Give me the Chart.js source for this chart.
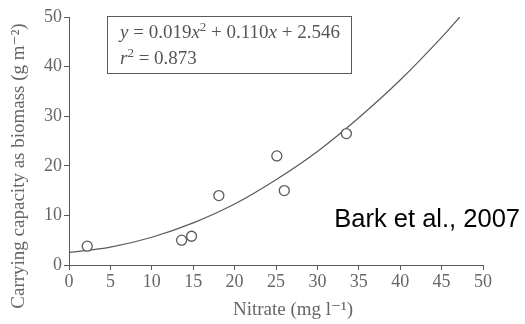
<!DOCTYPE html>
<html><head><meta charset="utf-8">
<script src="https://cdn.jsdelivr.net/npm/chart.js@4/dist/chart.umd.min.js"></script>
<style>html,body{margin:0;padding:0;background:#fff;}#w{width:525px;height:324px;position:relative;}</style>
</head><body><div id="w"><canvas id="c"></canvas></div>
<script>
const nitrate = [2.2, 13.6, 14.8, 18.1, 25.1, 26.0, 33.5];
const biomass = [3.8, 5.0, 5.8, 14.0, 22.0, 15.0, 26.5];
const fitX = [0, 5, 10, 15, 20, 25, 30, 35, 40, 45, 47.2];
const fitY = [2.5, 3.6, 5.6, 8.5, 12.3, 17.2, 22.9, 29.7, 37.3, 45.9, 50];
const xTicks = [0, 5, 10, 15, 20, 25, 30, 35, 40, 45, 50];
const yTicks = [0, 10, 20, 30, 40, 50];
const xTitle = 'Nitrate (mg l\u207B\u00B9)';
const yTitle = 'Carrying capacity as biomass (g m\u207B\u00B2)';
const grey = '#5a5a5a';
const serif = "'Liberation Serif','DejaVu Serif',serif";

const overlay = {
  id: 'overlay',
  afterDraw(chart) {
    const ctx = chart.ctx;
    ctx.save();
    // axis titles
    ctx.fillStyle = '#666';
    ctx.font = '19px ' + serif;
    ctx.textAlign = 'center';
    ctx.textBaseline = 'alphabetic';
    ctx.fillText(xTitle, 293, 315);
    ctx.save();
    ctx.translate(24, 166);
    ctx.rotate(-Math.PI / 2);
    ctx.fillText(yTitle, 0, 0);
    ctx.restore();
    // equation box
    ctx.textAlign = 'left';
    ctx.strokeStyle = grey; ctx.lineWidth = 1;
    ctx.strokeRect(107.5, 16.5, 244, 57);
    ctx.fillStyle = '#555';
    const seg = (parts, x, y) => {
      for (const p of parts) {
        ctx.font = (p.it ? 'italic ' : '') + (p.s || 19) + 'px ' + serif;
        ctx.fillText(p.t, x, y + (p.dy || 0));
        x += ctx.measureText(p.t).width;
      }
    };
    seg([{t:'y',it:1},{t:' = 0.019'},{t:'x',it:1},{t:'2',s:13,dy:-7},{t:' + 0.110'},{t:'x',it:1},{t:' + 2.546'}], 120, 38);
    seg([{t:'r',it:1},{t:'2',s:13,dy:-7},{t:' = 0.873'}], 120, 64);
    // attribution
    ctx.fillStyle = '#000';
    ctx.font = "25.5px 'Liberation Sans', Arial, sans-serif";
    ctx.textAlign = 'right';
    ctx.fillText('Bark et al., 2007', 520, 227);
    ctx.restore();
  }
};

new Chart(document.getElementById('c'), {
  data: {
    datasets: [
      { type: 'line', data: fitX.map((x, i) => ({x, y: fitY[i]})), borderColor: grey, borderWidth: 1.2,
        pointRadius: 0, cubicInterpolationMode: 'monotone', fill: false, order: 2 },
      { type: 'scatter', data: nitrate.map((x, i) => ({x, y: biomass[i]})), borderColor: grey,
        backgroundColor: '#fff', pointRadius: 5, borderWidth: 1.3, order: 1 }
    ]
  },
  options: {
    responsive: true, maintainAspectRatio: false, animation: false,
    layout: { padding: { top: 17, right: 42, left: 0, bottom: 0 } },
    plugins: { legend: { display: false }, tooltip: { enabled: false } },
    scales: {
      x: {
        type: 'linear', min: 0, max: 50,
        afterBuildTicks: s => { s.ticks = xTicks.map(v => ({value: v})); },
        afterFit: s => { s.height = 59; },
        border: { color: grey, width: 1 },
        grid: { drawOnChartArea: false, drawTicks: true, tickLength: 5, color: grey },
        ticks: { color: '#666', font: { family: serif, size: 18 }, padding: 1, maxRotation: 0 },
        title: { display: false }
      },
      y: {
        type: 'linear', min: 0, max: 50,
        afterBuildTicks: s => { s.ticks = yTicks.map(v => ({value: v})); },
        afterFit: s => { s.width = 69; },
        border: { color: grey, width: 1 },
        grid: { drawOnChartArea: false, drawTicks: true, tickLength: 5, color: grey },
        ticks: { color: '#666', font: { family: serif, size: 18 }, padding: 2 },
        title: { display: false }
      }
    }
  },
  plugins: [overlay]
});
</script></body></html>
